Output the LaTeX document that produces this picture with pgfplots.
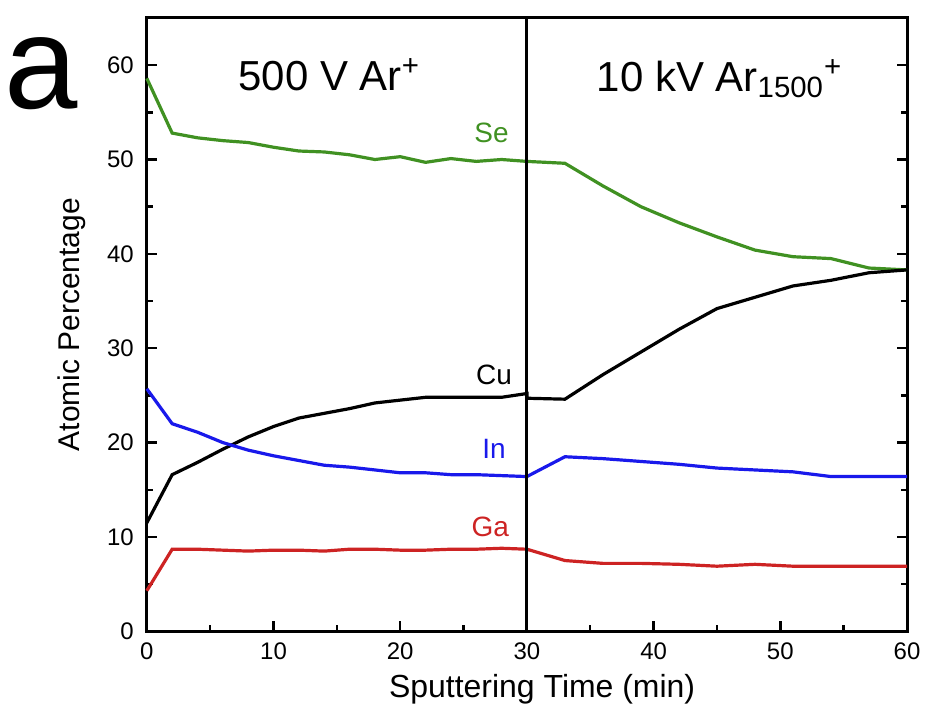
\documentclass[border=0pt]{standalone}
\usepackage{fontspec}
\setmainfont{Liberation Sans}
\usepackage{pgfplots}
\pgfplotsset{compat=1.18}
\definecolor{seG}{RGB}{64,145,34}
\definecolor{inB}{RGB}{25,25,235}
\definecolor{gaR}{RGB}{205,35,35}
\begin{document}
\begin{tikzpicture}
\begin{axis}[
  scale only axis,
  width=380.5pt, height=307pt,
  xmin=0, xmax=60, ymin=0, ymax=65,
  xtick={0,10,...,60}, ytick={0,10,...,60},
  minor xtick={5,15,...,55}, minor ytick={5,15,...,55},
  xtick pos=bottom, ytick pos=both,
  tick align=inside,
  major tick length=5pt, minor tick length=3pt,
  axis line style={line width=1.5pt},
  every tick/.style={black, line width=1.2pt},
  tick label style={font=\fontsize{12}{14}\selectfont},
  xticklabel style={yshift=-2pt},
  yticklabel style={xshift=-3pt},
  /pgf/number format/assume math mode=true,
  xlabel={Sputtering Time (min)},
  ylabel={Atomic Percentage},
  xlabel style={font=\fontsize{16}{18}\selectfont, at={(axis description cs:0.52,-0.0945)}, anchor=center},
  ylabel style={font=\fontsize{15}{17}\selectfont, at={(axis description cs:-0.0986,0.5)}, anchor=center},
  clip=false,
]
% Se
\addplot[seG, line width=1.6pt] coordinates {
(0,58.6) (2,52.8) (4,52.3) (6,52.0) (8,51.8) (10,51.3) (12,50.9) (14,50.8) (16,50.5) (18,50.0) (20,50.3) (22,49.7) (24,50.1) (26,49.8) (28,50.0) (30,49.8)
(33,49.6) (36,47.2) (39,45.0) (42,43.3) (45,41.8) (48,40.4) (51,39.7) (54,39.5) (57,38.5) (60,38.3)};
% Cu
\addplot[black, line width=1.6pt] coordinates {
(0,11.5) (2,16.6) (4,17.9) (6,19.3) (8,20.6) (10,21.7) (12,22.6) (14,23.1) (16,23.6) (18,24.2) (20,24.5) (22,24.8) (24,24.8) (26,24.8) (28,24.8) (30,25.2)
(30,24.7) (33,24.6) (36,27.2) (39,29.6) (42,32.0) (45,34.2) (48,35.4) (51,36.6) (54,37.2) (57,38.0) (60,38.3)};
% In
\addplot[inB, line width=1.6pt] coordinates {
(0,25.7) (2,22.0) (4,21.1) (6,20.0) (8,19.2) (10,18.6) (12,18.1) (14,17.6) (16,17.4) (18,17.1) (20,16.8) (22,16.8) (24,16.6) (26,16.6) (28,16.5) (30,16.4)
(33,18.5) (36,18.3) (39,18.0) (42,17.7) (45,17.3) (48,17.1) (51,16.9) (54,16.4) (57,16.4) (60,16.4)};
% Ga
\addplot[gaR, line width=1.6pt] coordinates {
(0,4.3) (2,8.7) (4,8.7) (6,8.6) (8,8.5) (10,8.6) (12,8.6) (14,8.5) (16,8.7) (18,8.7) (20,8.6) (22,8.6) (24,8.7) (26,8.7) (28,8.8) (30,8.7)
(33,7.5) (36,7.2) (39,7.2) (42,7.1) (45,6.9) (48,7.1) (51,6.9) (54,6.9) (57,6.9) (60,6.9)};
% divider
\addplot[black, line width=1.5pt] coordinates {(30,0) (30,65)};
\node[font=\fontsize{21}{24}\selectfont] at (axis cs:14.4,59.0) {500 V Ar\textsuperscript{+}};
\node[font=\fontsize{21}{24}\selectfont] at (axis cs:45.2,58.6) {10 kV Ar\textsubscript{1500}\textsuperscript{+}};
\node[seG, font=\fontsize{14}{16}\selectfont] at (axis cs:27.2,52.8) {Se};
\node[black, font=\fontsize{14}{16}\selectfont] at (axis cs:27.4,27.2) {Cu};
\node[inB, font=\fontsize{14}{16}\selectfont] at (axis cs:27.4,19.3) {In};
\node[gaR, font=\fontsize{14}{16}\selectfont] at (axis cs:27.1,11.1) {Ga};
\end{axis}
\node[font=\fontsize{66}{72}\selectfont, inner sep=0pt] at (-53pt,279pt) {a};
\path[use as bounding box] ([xshift=-73.5pt,yshift=-39.5pt]current axis.south west) rectangle ([xshift=9.5pt,yshift=9pt]current axis.north east);
\end{tikzpicture}
\end{document}
